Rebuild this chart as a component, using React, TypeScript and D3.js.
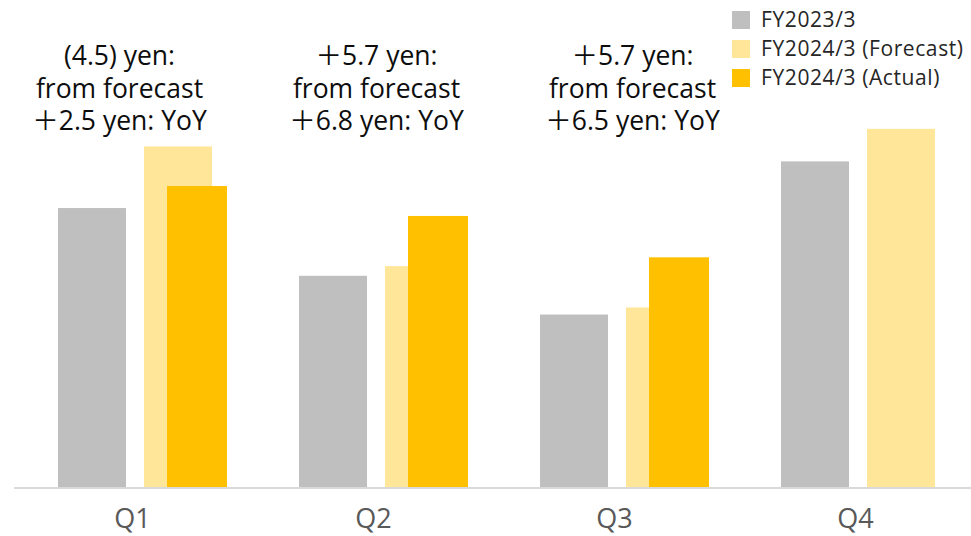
import React from 'react';
import * as d3 from 'd3';

const quarters = ['Q1', 'Q2', 'Q3', 'Q4'];
const fy2023 = [31.7, 24.0, 19.6, 37.0];
const fy2024Forecast = [38.7, 25.1, 20.4, 40.7];
const fy2024Actual: (number | null)[] = [34.2, 30.8, 26.1, null];
const seriesNames = ['FY2023/3', 'FY2024/3 (Forecast)', 'FY2024/3 (Actual)'];
const annotationLines = [
  ['(4.5) yen:', 'from forecast', '＋2.5 yen: YoY'],
  ['＋5.7 yen:', 'from forecast', '＋6.8 yen: YoY'],
  ['＋5.7 yen:', 'from forecast', '＋6.5 yen: YoY'],
];

const W = 971;
const H = 536;
const COLORS = ['#BFBFBF', '#FFE699', '#FFC000'];
const FONT = "'Open Sans', 'Noto Sans CJK JP', sans-serif";
const annotationDx = [-15, 1, 16];

export default function App() {
  const x = d3.scaleBand<string>().domain(quarters).range([14, 978]).padding(0);
  const y = d3.scaleLinear().domain([0, 50]).range([487, 47]);
  const barW = 68;
  const actW = 60;
  const offs = [44, 130, 153];

  return (
    <svg width={W} height={H} style={{ position: 'absolute', left: 0, top: 0, background: '#fff' }}
      fontFamily={FONT}>
      <rect x={0} y={0} width={W} height={H} fill="#fff" />
      {quarters.map((q, i) => {
        const x0 = x(q)!;
        const a = fy2024Actual[i];
        return (
          <g key={q}>
            <rect x={x0 + offs[0]} y={y(fy2023[i])} width={barW} height={y(0) - y(fy2023[i])} fill={COLORS[0]} />
            <rect x={x0 + offs[1]} y={y(fy2024Forecast[i])} width={barW} height={y(0) - y(fy2024Forecast[i])} fill={COLORS[1]} />
            {a != null && (
              <rect x={x0 + offs[2]} y={y(a)} width={actW} height={y(0) - y(a)} fill={COLORS[2]} />
            )}
            <text x={x0 + x.bandwidth() / 2 - 2} y={528} textAnchor="middle" fontSize={27} fill="#595959">{q}</text>
          </g>
        );
      })}
      <line x1={14} x2={W} y1={488} y2={488} stroke="#D9D9D9" strokeWidth={2} />
      {annotationLines.map((lines, i) => {
        const cx = x(quarters[i])! + x.bandwidth() / 2 + annotationDx[i];
        return (
          <text key={i} textAnchor="middle" fontSize={26.5} fill="#0D0D0D">
            {lines.map((l, j) => (
              <tspan key={j} x={cx} y={65 + j * 32.5}>{l}</tspan>
            ))}
          </text>
        );
      })}
      {seriesNames.map((n, i) => (
        <g key={n} transform={`translate(732, ${11 + i * 29})`}>
          <rect x={0} y={0} width={18} height={18} fill={COLORS[i]} />
          <text x={29} y={16} fontSize={21} letterSpacing={0.6} fill="#262626">{n}</text>
        </g>
      ))}
    </svg>
  );
}
